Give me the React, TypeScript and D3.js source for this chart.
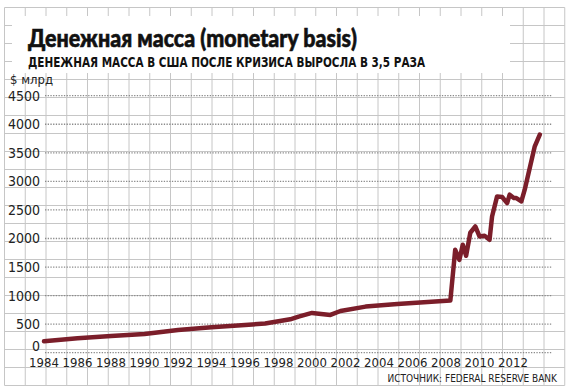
import { useEffect, useRef } from "react";
import * as d3 from "d3";

// monetary base, $ bn
const YEARS = [
  1984.0, 1986.0, 1988.0, 1990.0, 1992.0, 1994.0, 1996.0, 1997.2, 1998.0, 1998.7, 1999.2, 2000.0,
  2001.1, 2001.7, 2003.2, 2005.1, 2008.26, 2008.55, 2008.8, 2009.0, 2009.2, 2009.45, 2009.75,
  2010.0, 2010.3, 2010.6, 2010.75, 2011.05, 2011.35, 2011.65, 2011.8, 2012.05, 2012.2, 2012.5,
  2012.7, 2013.3, 2013.6,
];
const VALUES = [
  200, 252, 293, 328, 398, 445, 486, 510, 550, 585, 632, 696,
  661, 730, 807, 854, 912, 1802, 1626, 1890, 1697, 2100, 2210,
  2035, 2047, 1977, 2386, 2737, 2726, 2620, 2767, 2708, 2708, 2649,
  2854, 3614, 3819,
];
const Y_TICKS = [0, 500, 1000, 1500, 2000, 2500, 3000, 3500, 4000, 4500];
const X_TICKS = [1984, 1986, 1988, 1990, 1992, 1994, 1996, 1998, 2000, 2002, 2004, 2006, 2008, 2010, 2012];

const TITLE = "Денежная масса (monetary basis)";
const SUBTITLE = "ДЕНЕЖНАЯ МАССА В США ПОСЛЕ КРИЗИСА ВЫРОСЛА В 3,5 РАЗА";
const UNIT = "$ млрд";
const SOURCE = "ИСТОЧНИК: FEDERAL RESERVE BANK";

const W = 570;
const H = 392;
const NARROW = "'Liberation Sans Narrow', 'DejaVu Sans Condensed', 'Roboto Condensed', sans-serif";

export default function App() {
  const svgRef = useRef<SVGSVGElement>(null);

  useEffect(() => {
    const svgEl = svgRef.current;
    if (!svgEl) return;
    const svg = d3.select(svgEl);
    svg.selectAll("*").remove();

    svg.append("rect").attr("width", W).attr("height", H).attr("fill", "#fff");

    // graph-paper background
    const paper = svg.append("g").attr("stroke", "#c6c6c6").attr("stroke-width", 1);
    const vx = d3.range(0, 28).map((k) => 4.5 + k * 20.75);
    const hy = d3.range(0, 22).map((k) => 7.5 + k * 18);
    paper
      .selectAll("line.v")
      .data(vx)
      .join("line")
      .attr("class", "v")
      .attr("x1", (d) => d)
      .attr("x2", (d) => d)
      .attr("y1", hy[0])
      .attr("y2", hy[hy.length - 1]);
    paper
      .selectAll("line.h")
      .data(hy)
      .join("line")
      .attr("class", "h")
      .attr("x1", vx[0])
      .attr("x2", vx[vx.length - 1])
      .attr("y1", (d) => d)
      .attr("y2", (d) => d);

    // title card
    svg.append("rect").attr("x", 12).attr("y", 16).attr("width", 498).attr("height", 57).attr("fill", "#fff");
    svg
      .append("text")
      .attr("x", 28)
      .attr("y", 47)
      .attr("font-family", "Lato, 'DejaVu Sans', sans-serif")
      .attr("font-weight", 900)
      .attr("font-size", 24)
      .attr("fill", "#111")
      .attr("stroke", "#111")
      .attr("stroke-width", 0.6)
      .attr("textLength", 329)
      .attr("lengthAdjust", "spacingAndGlyphs")
      .text(TITLE);
    svg
      .append("text")
      .attr("x", 28)
      .attr("y", 67)
      .attr("font-family", NARROW)
      .attr("font-weight", 700)
      .attr("font-size", 14)
      .attr("fill", "#111")
      .attr("textLength", 397)
      .attr("lengthAdjust", "spacingAndGlyphs")
      .text(SUBTITLE);

    const x = d3.scaleLinear().domain([1984, 2012]).range([44, 513]);
    const y = d3.scaleLinear().domain([0, 4500]).range([352.7, 95.7]);

    // dotted value grid
    svg
      .append("g")
      .selectAll("line")
      .data(Y_TICKS)
      .join("line")
      .attr("x1", 45)
      .attr("x2", 552)
      .attr("y1", (d) => y(d))
      .attr("y2", (d) => y(d))
      .attr("stroke", "#8a8a8a")
      .attr("stroke-width", 1.3)
      .attr("stroke-dasharray", "1.3,1.4");

    svg
      .append("g")
      .selectAll("text")
      .data(Y_TICKS)
      .join("text")
      .attr("x", 40)
      .attr("y", (d) => y(d) + (d === 0 ? -2 : 5))
      .attr("text-anchor", "end")
      .attr("font-family", NARROW)
      .attr("font-size", 14)
      .attr("fill", "#222")
      .text((d) => String(d));

    svg
      .append("text")
      .attr("x", 10)
      .attr("y", 84)
      .attr("font-family", NARROW)
      .attr("font-size", 13)
      .attr("fill", "#222")
      .text(UNIT);

    svg
      .append("g")
      .selectAll("text")
      .data(X_TICKS)
      .join("text")
      .attr("x", (d) => x(d))
      .attr("y", 367)
      .attr("text-anchor", "middle")
      .attr("font-family", NARROW)
      .attr("font-size", 13)
      .attr("fill", "#222")
      .text((d) => String(d));

    svg
      .append("text")
      .attr("x", 557)
      .attr("y", 382)
      .attr("text-anchor", "end")
      .attr("font-family", NARROW)
      .attr("font-size", 10)
      .attr("fill", "#222")
      .text(SOURCE);

    const line = d3
      .line<number>()
      .x((_d, i) => x(YEARS[i]))
      .y((d) => y(d));

    svg
      .append("path")
      .datum(VALUES)
      .attr("d", line)
      .attr("fill", "none")
      .attr("stroke", "#7b1e2a")
      .attr("stroke-width", 4.5)
      .attr("stroke-linejoin", "round")
      .attr("stroke-linecap", "round");
  }, []);

  return (
    <div style={{ position: "absolute", left: 0, top: 0 }}>
      <svg ref={svgRef} width={W} height={H} />
    </div>
  );
}
